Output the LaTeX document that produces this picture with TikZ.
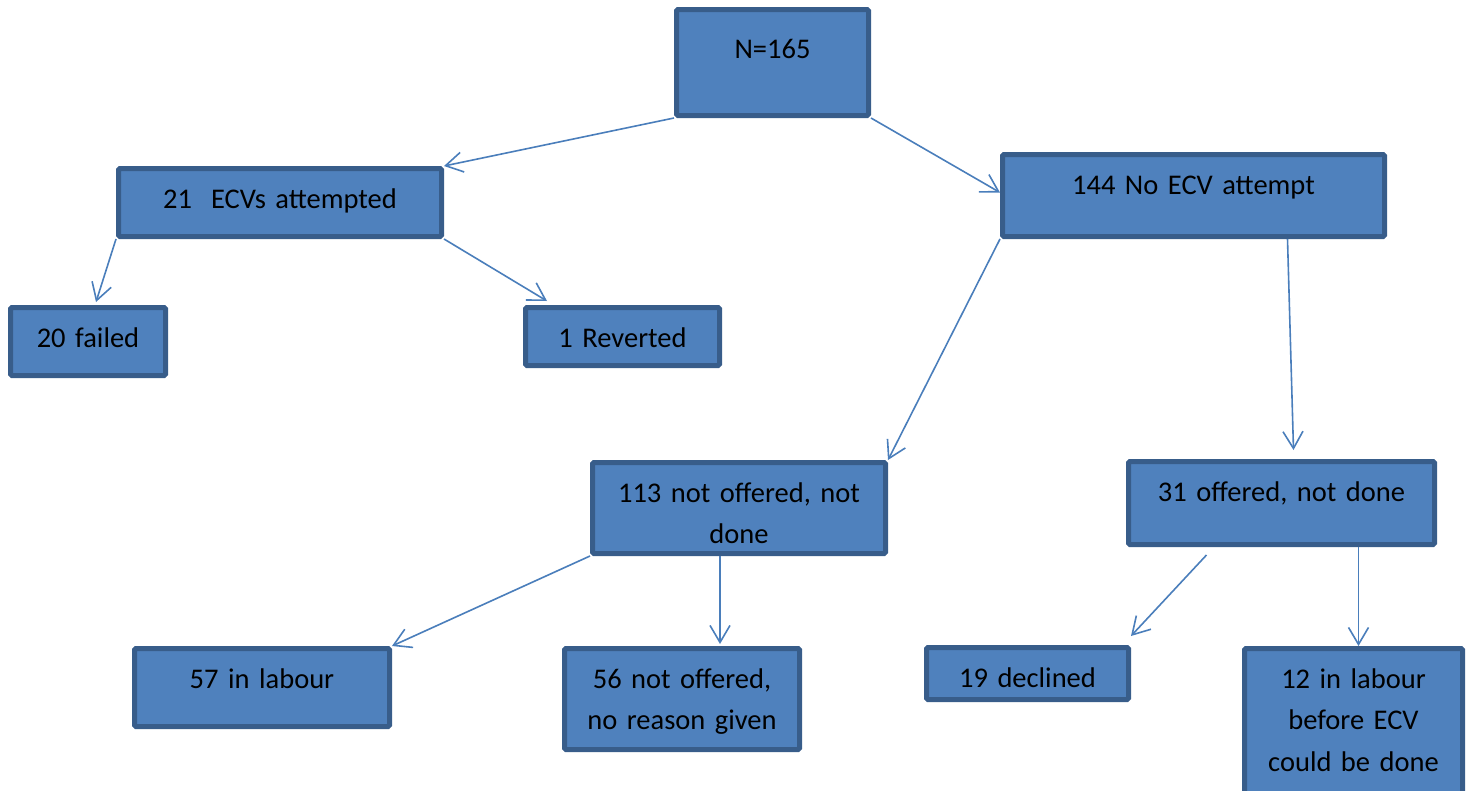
\documentclass[tikz,border=0pt]{standalone}
\usepackage{fontspec}
\setmainfont{Carlito}
\usetikzlibrary{arrows.meta,calc}
\definecolor{boxfill}{HTML}{4F81BD}
\definecolor{boxline}{HTML}{385D8A}
\definecolor{arrline}{HTML}{4A7EBB}

\begin{document}
\begin{tikzpicture}[x=1pt,y=-1pt,
  box/.style 2 args={draw=boxline, fill=boxfill, line width=5pt, rounded corners=1.5pt,
    inner sep=0pt, anchor=north west, align=center, text width=#1pt,
    text height=39.5pt, text depth=#2pt, font=\fontsize{28.5}{41.5}\selectfont},
  arr/.style={draw=arrline, line width=1.6pt, -{Straight Barb[length=17pt,width=20pt]}}]
\useasboundingbox (0,0) rectangle (1467,790);
% boxes, placed by their top left corner
\node[box={192}{57.5}, text height=48.5pt] (top) at (674,7) {N=165};
\node[box={323}{28.5}] (ecv) at (116,166) {21\ \ ECVs attempted};
\node[box={382}{42.5}] (noecv) at (1000,152) {144 No ECV attempt};
\node[box={155}{28.5}] (failed) at (8,305) {20 failed};
\node[box={194}{18.5}] (revert) at (523,305) {1 Reverted};
\node[box={293}{51.5}] (notoff) at (590,460) {113 not offered, not\\ done};
\node[box={306}{43.5}] (offered) at (1126,459) {31 offered, not done};
\node[box={255}{38.5}] (labour) at (132,646) {57 in labour};
\node[box={235}{61.5}] (noreason) at (562,646) {56 not offered,\\ no reason given};
\node[box={202}{12.5}] (declined) at (924,645) {19 declined};
\node[box={218}{125}] (early) at (1242,646) {12 in labour\\ before ECV\\ could be done};
% arrows
\draw[arr] (top.south west) -- (ecv.north east);
\draw[arr] (top.south east) -- ($(noecv.west)+(0,-3)$);
\draw[arr] (ecv.south west) -- ($(failed.north)+(8,-3)$);
\draw[arr] (ecv.south east) -- ($(revert.north west)+(24,-4)$);
\draw[arr] (noecv.south west) -- (notoff.north east);
\draw[arr] ($(noecv.south)+(94,0)$) -- ($(offered.north)+(12,-9)$);
\draw[arr] (notoff.south west) -- (labour.north east);
\draw[arr] ($(notoff.south)+(-19,0)$) -- ($(noreason.north)+(38,-2)$);
\draw[arr] ($(offered.south)+(-75,8)$) -- ($(declined.north east)+(0,-9)$);
\draw[arr] ($(offered.south)+(77,0)$) -- ($(early.north)+(5,0)$);
\end{tikzpicture}
\end{document}
